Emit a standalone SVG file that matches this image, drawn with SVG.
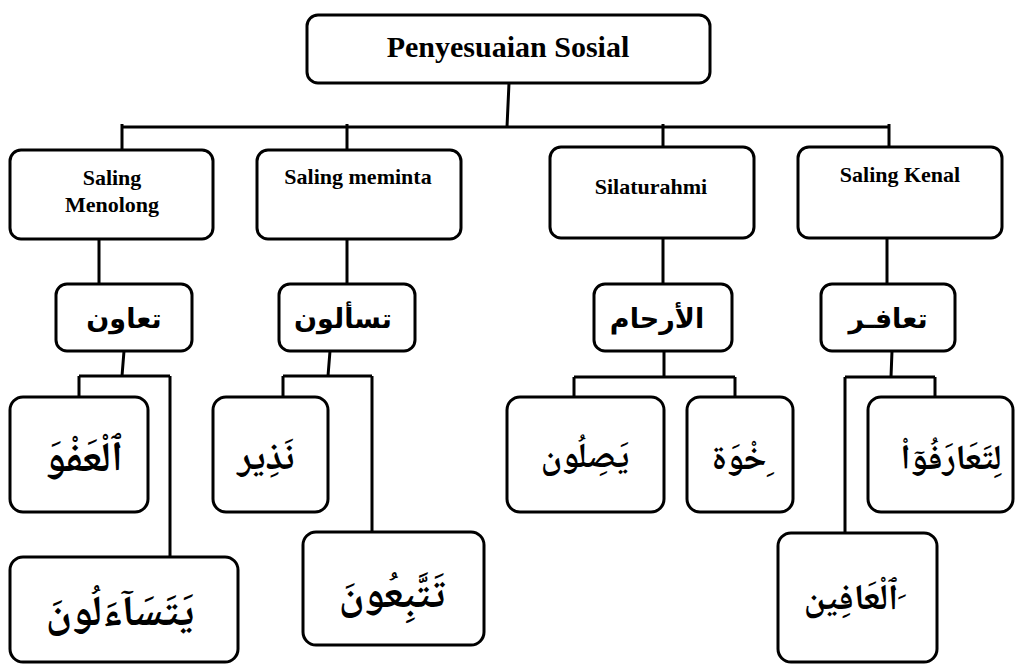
<svg xmlns="http://www.w3.org/2000/svg" width="1016" height="665" viewBox="0 0 1016 665">
<style>
.box{fill:#fff;stroke:#000;stroke-width:3}
.ln{fill:none;stroke:#000;stroke-width:3}
.lat{font-family:"Liberation Serif","Times New Roman",serif;font-weight:bold;fill:#000;text-anchor:middle}
.ar{font-family:"DejaVu Sans","Liberation Sans",sans-serif;font-weight:bold;fill:#000;text-anchor:middle;font-size:27px}
.ar2{font-family:"Noto Naskh Arabic","DejaVu Sans",sans-serif;font-weight:bold;fill:#000;text-anchor:middle}
</style>
<rect width="1016" height="665" fill="#fff"/>
<g id="connectors">
<path class="ln" d="M509 83 L507 127 M122 127 H890"/>
<path class="ln" d="M122 124 V150 M347 124 V150 M663 124 V147 M889 124 V147"/>
<path class="ln" d="M99 239 V284 M347 239 V284 M663 238 V284 M887 238 V284"/>
<path class="ln" d="M124 351 L122 376 M79 376 H170 M79 376 V397 M170 376 V557"/>
<path class="ln" d="M330 351 L328 376 M283 376 H372 M283 376 V397 M372 376 V532"/>
<path class="ln" d="M664 351 V377 M574 377 H735 M574 377 V397 M735 377 V397"/>
<path class="ln" d="M892 351 L891 377 M845 377 H935 M845 377 V533 M935 377 V397"/>
</g>
<g id="root">
<rect class="box" x="307" y="15" width="403" height="68" rx="11"/>
<text class="lat" x="508" y="57" font-size="30">Penyesuaian Sosial</text>
</g>
<g id="saling-menolong">
<rect class="box" x="10" y="150" width="203" height="89" rx="11"/>
<text class="lat" x="112" y="185" font-size="22">Saling</text>
<text class="lat" x="112" y="212" font-size="22">Menolong</text>
</g>
<g id="saling-meminta">
<rect class="box" x="257" y="150" width="204" height="89" rx="11"/>
<text class="lat" x="358" y="184" font-size="22">Saling meminta</text>
</g>
<g id="silaturahmi">
<rect class="box" x="550" y="147" width="204" height="91" rx="11"/>
<text class="lat" x="651" y="194" font-size="22">Silaturahmi</text>
</g>
<g id="saling-kenal">
<rect class="box" x="798" y="147" width="204" height="91" rx="11"/>
<text class="lat" x="900" y="182" font-size="22">Saling Kenal</text>
</g>
<g id="taawun">
<rect class="box" x="56" y="284" width="136" height="67" rx="11"/>
<text class="ar" x="124" y="328" direction="rtl">تعاون</text>
</g>
<g id="tasaalun">
<rect class="box" x="279" y="284" width="136" height="67" rx="11"/>
<text class="ar" x="343" y="328" direction="rtl">تسألون</text>
</g>
<g id="alarham">
<rect class="box" x="594" y="284" width="138" height="67" rx="11"/>
<text class="ar" x="657" y="328" direction="rtl">الأرحام</text>
</g>
<g id="taafur">
<rect class="box" x="821" y="284" width="134" height="67" rx="11"/>
<text class="ar" x="888" y="328" direction="rtl">تعافـر</text>
</g>
<g id="alafwa">
<rect class="box" x="10" y="397" width="138" height="115" rx="13"/>
<text class="ar2" x="84" y="471" direction="rtl" font-size="42">ٱلْعَفْوَ</text>
</g>
<g id="nadhir">
<rect class="box" x="213" y="397" width="115" height="115" rx="13"/>
<text class="ar2" x="266" y="469" direction="rtl" font-size="38">نَذِير</text>
</g>
<g id="yasilun">
<rect class="box" x="507" y="397" width="157" height="115" rx="13"/>
<text class="ar2" x="585" y="467" direction="rtl" font-size="35">يَصِلُون</text>
</g>
<g id="ikhwah">
<rect class="box" x="687" y="397" width="106" height="115" rx="13"/>
<text class="ar2" x="743" y="469" direction="rtl" font-size="35">&#160;&#1616;خْوَة</text>
</g>
<g id="litaarafu">
<rect class="box" x="868" y="397" width="145" height="115" rx="13"/>
<text class="ar2" x="951" y="469" direction="rtl" font-size="35">لِتَعَارَفُوٓاْ</text>
</g>
<g id="yatasaalun">
<rect class="box" x="10" y="557" width="228" height="105" rx="13"/>
<text class="ar2" x="120" y="625" direction="rtl" font-size="43">يَتَسَآءَلُونَ</text>
</g>
<g id="tattabiun">
<rect class="box" x="303" y="532" width="181" height="113" rx="13"/>
<text class="ar2" x="392" y="607" direction="rtl" font-size="42">تَتَّبِعُونَ</text>
</g>
<g id="alafin">
<rect class="box" x="778" y="533" width="159" height="129" rx="13"/>
<text class="ar2" x="855" y="609" direction="rtl" font-size="36">&#160;&#1614;ٱلْعَافِين</text>
</g>
</svg>
